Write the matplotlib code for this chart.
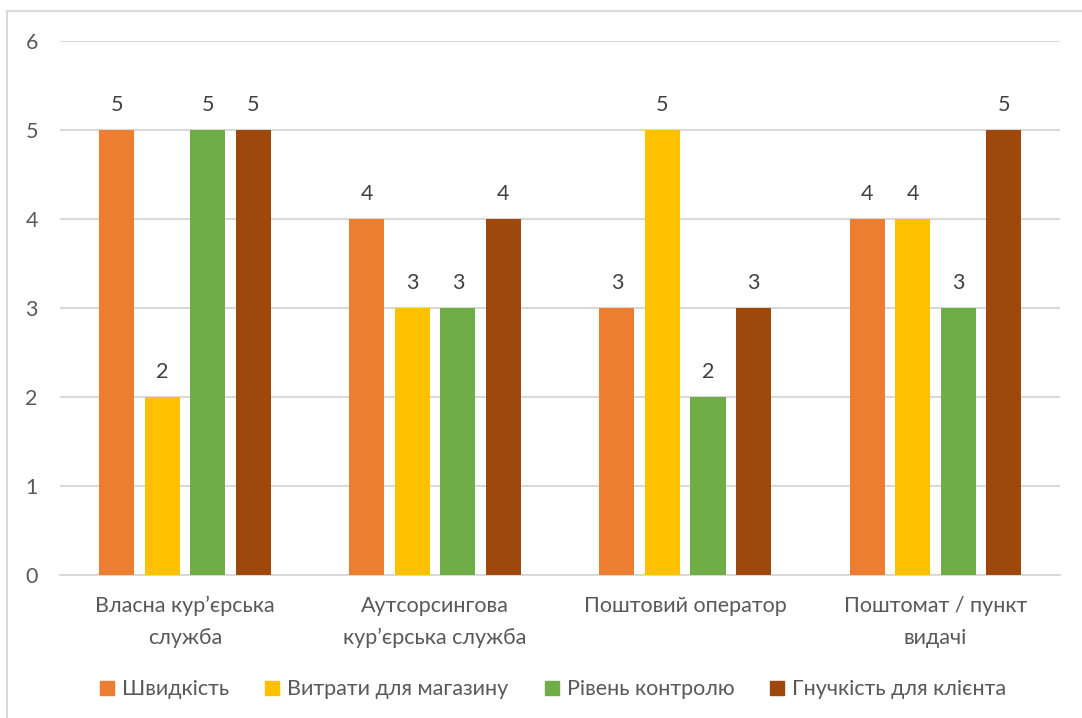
import matplotlib
matplotlib.use("Agg")
import matplotlib.pyplot as plt
from matplotlib.lines import Line2D
import numpy as np

plt.rcParams['font.family'] = ['Lato', 'DejaVu Sans']

categories = ["Власна кур’єрська\nслужба", "Аутсорсингова\nкур’єрська служба",
              "Поштовий оператор", "Поштомат / пункт\nвидачі"]
series_names = ["Швидкість", "Витрати для магазину", "Рівень контролю", "Гнучкість для клієнта"]
speed = [5, 4, 3, 4]
cost = [2, 3, 5, 4]
control = [5, 3, 2, 3]
flexibility = [5, 4, 3, 5]
colors = ["#ED7D31", "#FFC000", "#70AD47", "#9E480E"]

TEXT = "#595959"
GRID = "#D9D9D9"
FS = 15.5

fig = plt.figure(figsize=(10.82, 7.18), dpi=100)
ax = fig.add_axes([0.0555, 0.1992, 0.9245, 0.7438])

x = np.arange(len(categories))
width = 0.14
step = 0.182
all_series = [speed, cost, control, flexibility]
for i, (vals, name, col) in enumerate(zip(all_series, series_names, colors)):
    pos = x + (i - 1.5) * step
    bars = ax.bar(pos, vals, width, color=col, label=name, zorder=3)
    for b, v in zip(bars, vals):
        ax.annotate(str(v), (b.get_x() + b.get_width() / 2, v),
                    xytext=(0, 18), textcoords="offset points",
                    ha="center", va="center", fontsize=FS, color="#404040")

ax.set_xlim(-0.5, len(categories) - 0.5)
ax.set_ylim(0, 6)
ax.set_yticks(range(0, 7))
ax.set_xticks(x)
ax.set_xticklabels(categories, linespacing=1.75)
ax.tick_params(axis="both", length=0, labelsize=FS, labelcolor=TEXT)
ax.tick_params(axis="y", pad=16)
ax.tick_params(axis="x", pad=15)
ax.yaxis.grid(True, color=GRID, linewidth=1.5, zorder=0)
for s in ["top", "right", "left"]:
    ax.spines[s].set_visible(False)
ax.spines["bottom"].set_color(GRID)
ax.spines["bottom"].set_linewidth(1.5)

handles = [Line2D([], [], marker="s", linestyle="none", markersize=10,
                  markerfacecolor=c, markeredgecolor=c) for c in colors]
fig.legend(handles, series_names, loc="center", bbox_to_anchor=(0.511, 0.04),
           ncol=4, frameon=False, fontsize=FS, labelcolor=TEXT,
           handlelength=0.7, handletextpad=0.35, columnspacing=1.65)

# outer chart border (only left and top edges fall inside the canvas)
fig.add_artist(Line2D([7 / 1082, 7 / 1082], [0, 1 - 11 / 718], transform=fig.transFigure,
                      color=GRID, linewidth=1.5))
fig.add_artist(Line2D([7 / 1082, 1], [1 - 11 / 718, 1 - 11 / 718], transform=fig.transFigure,
                      color=GRID, linewidth=1.5))

fig.savefig("out.png", dpi=100)
